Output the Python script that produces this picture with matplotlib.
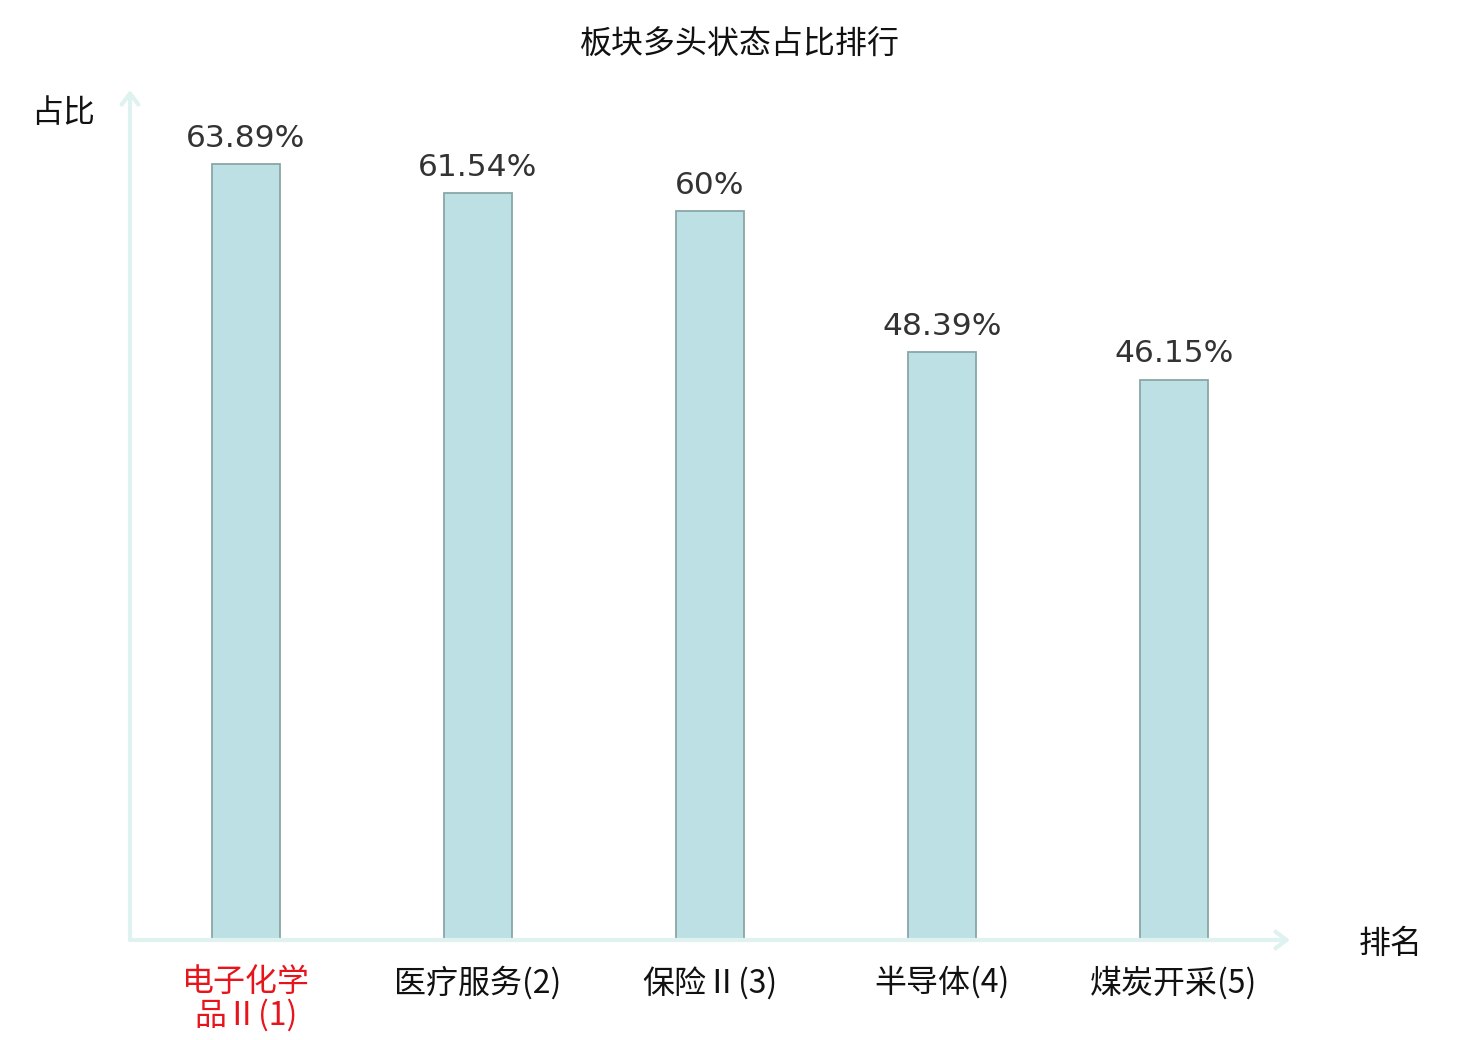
import matplotlib
matplotlib.use("Agg")
import matplotlib.pyplot as plt

plt.rcParams['font.family'] = ['Noto Sans CJK SC', 'DejaVu Sans']

categories = ["电子化学\n品Ⅱ(1)", "医疗服务(2)", "保险Ⅱ(3)", "半导体(4)", "煤炭开采(5)"]
values = [63.89, 61.54, 60.0, 48.39, 46.15]
value_labels = ["63.89%", "61.54%", "60%", "48.39%", "46.15%"]
label_colors = ["#e8141b", "#111111", "#111111", "#111111", "#111111"]

axis_color = "#dff2f0"

fig = plt.figure(figsize=(14.8, 10.4), dpi=100)
ax = fig.add_axes([130 / 1480, 100 / 1040, 1160 / 1480, 850 / 1040])

x = list(range(len(categories)))
ax.bar(x, values, width=0.293, color="#bce0e3", edgecolor="#8aa6a8", linewidth=1.3, zorder=3)

for xi, v, t in zip(x, values, value_labels):
    ax.annotate(t, (xi, v), xytext=(0, 8), textcoords="offset points",
                ha="center", va="bottom", fontsize=22.5, color="#333333",
                family="DejaVu Sans")

ax.set_xlim(-0.5, len(categories) - 0.5)
ax.set_ylim(0, 70)
ax.set_yticks([])
ax.set_xticks(x)
ax.set_xticklabels(categories, fontsize=23, linespacing=1.02)
for lbl, c in zip(ax.get_xticklabels(), label_colors):
    lbl.set_color(c)
ax.tick_params(axis="x", length=0, pad=19)

for s in ax.spines.values():
    s.set_visible(False)

# axis lines with arrow heads
arrow = dict(arrowstyle="->,head_length=0.8,head_width=0.6",
             color=axis_color, lw=3, shrinkA=0, shrinkB=0)
ax.annotate("", xy=(0, 1.0), xytext=(0, 0), xycoords="axes fraction", arrowprops=arrow)
ax.annotate("", xy=(1.0, 0), xytext=(0, 0), xycoords="axes fraction", arrowprops=arrow)

fig.text(63 / 1480, 1 - 113 / 1040, "占比", fontsize=23, ha="center", va="center", color="#111111")
fig.text(1391 / 1480, 1 - 944 / 1040, "排名", fontsize=23, ha="center", va="center", color="#111111")
fig.text(740 / 1480, 1 - 45 / 1040, "板块多头状态占比排行", fontsize=23, ha="center", va="center", color="#111111")

fig.savefig("out.png", dpi=100)
